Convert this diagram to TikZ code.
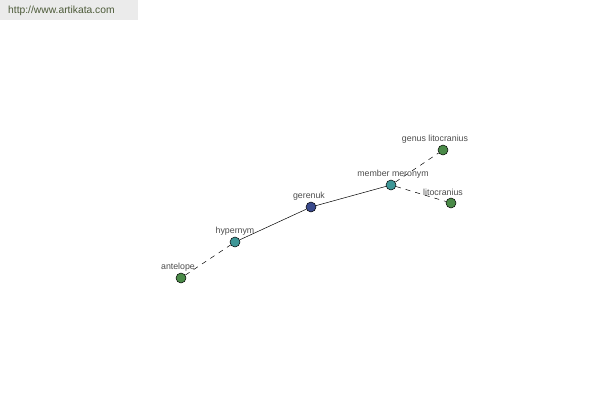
\documentclass[tikz,border=0pt]{standalone}
\usepackage{fontspec}
\setmainfont{Liberation Sans}
\definecolor{leafc}{HTML}{4A8A48}
\definecolor{midc}{HTML}{3E9696}
\definecolor{rootc}{HTML}{3A4A8C}
\definecolor{urlc}{HTML}{4C5A38}
\begin{document}
\begin{tikzpicture}[x=1pt,y=-1pt,
  dot/.style={circle,draw=black,line width=0.5pt,minimum size=10pt,inner sep=0pt},
  leaf/.style={dot,fill=leafc},
  mid/.style={dot,fill=midc},
  root/.style={dot,fill=rootc},
  lbl/.style={font=\fontsize{8.8}{10}\selectfont,text=black!70,inner sep=0pt},
  rel/.style={line width=0.5pt},
  relx/.style={line width=0.5pt,dash pattern=on 5pt off 5pt}]
\useasboundingbox (0,0) rectangle (600,400);
\fill[black!8] (0,0) rectangle (138,20);
\node[anchor=west,font=\fontsize{10.3}{12}\selectfont,text=urlc,inner sep=0pt] (url) at (8,11) {http://www.artikata.com};
\node[leaf] (ant) at (181,278) {};
\node[mid] (hyp) at (235,242) {};
\node[root] (ger) at (311,207) {};
\node[mid] (mem) at (391,185) {};
\node[leaf] (gen) at (443,150) {};
\node[leaf] (lit) at (451,203) {};
\draw[relx] (ant) -- (hyp);
\draw[rel] (hyp) -- (ger);
\draw[rel] (ger) -- (mem);
\draw[relx] (mem) -- (gen);
\draw[relx] (mem) -- (lit);
\node[lbl] (lant) at (178,267) {antelope};
\node[lbl] (lhyp) at (235,231) {hypernym};
\node[lbl] (lger) at (309,196) {gerenuk};
\node[lbl] (lmem) at (393,174) {member meronym};
\node[lbl] (lgen) at (435,139) {genus litocranius};
\node[lbl] (llit) at (443,192) {litocranius};
\end{tikzpicture}
\end{document}
